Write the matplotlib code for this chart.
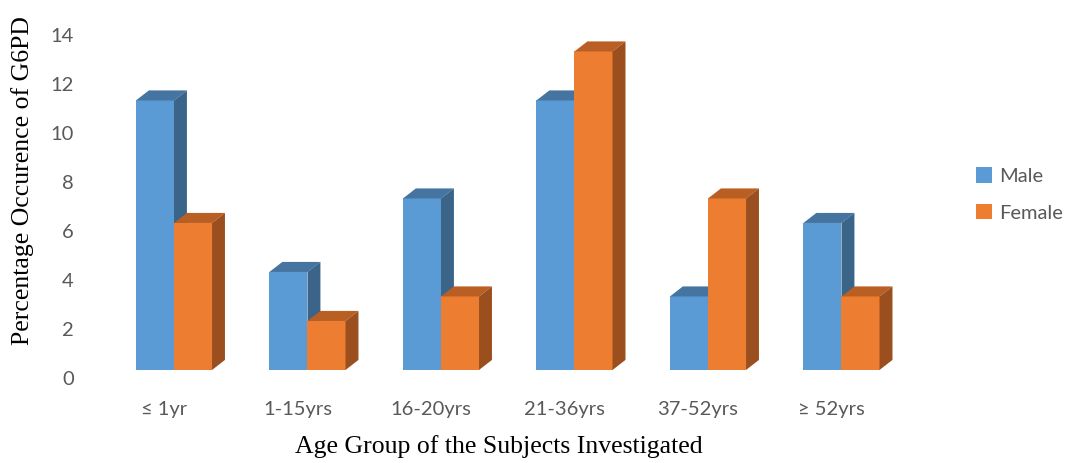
import numpy as np
import matplotlib
matplotlib.use("Agg")
import matplotlib.pyplot as plt
from matplotlib.patches import Rectangle, Polygon
from matplotlib.transforms import ScaledTranslation

age_groups = ["\u2264 1yr", "1-15yrs", "16-20yrs", "21-36yrs", "37-52yrs", "\u2265 52yrs"]
male = [11, 4, 7, 11, 3, 6]
female = [6, 2, 3, 13, 7, 3]
series = ["Male", "Female"]

# front, top, side shades for each series
shades = {
    "Male": ("#5b9bd5", "#44749f", "#3a6488"),
    "Female": ("#ed7d31", "#b95f24", "#9b4f1e"),
}

BAR_W = 0.285
DEPTH_X = 0.097
DEPTH_Y = 0.41
TEXT = "#595959"

fig = plt.figure(figsize=(10.69, 4.63), dpi=100)
ax = fig.add_axes([0.1003, 0.148, 0.7493, 0.8467])
ax.set_xlim(-0.5, 5.5)
ax.set_ylim(-1, 15)


def bar3d(ax, x0, h, colors):
    front, top, side = colors
    ax.add_patch(Rectangle((x0, 0), BAR_W, h, facecolor=front, edgecolor="none"))
    ax.add_patch(Polygon([(x0, h), (x0 + DEPTH_X, h + DEPTH_Y),
                          (x0 + BAR_W + DEPTH_X, h + DEPTH_Y), (x0 + BAR_W, h)],
                         closed=True, facecolor=top, edgecolor="none"))
    ax.add_patch(Polygon([(x0 + BAR_W, 0), (x0 + BAR_W, h),
                          (x0 + BAR_W + DEPTH_X, h + DEPTH_Y),
                          (x0 + BAR_W + DEPTH_X, DEPTH_Y)],
                         closed=True, facecolor=side, edgecolor="none"))


x = np.arange(len(age_groups))
for i in x:
    bar3d(ax, i - BAR_W, male[i], shades["Male"])
    bar3d(ax, i, female[i], shades["Female"])

for s in ax.spines.values():
    s.set_visible(False)

ax.set_yticks(range(0, 15, 2))
ax.set_yticklabels([str(v) for v in range(0, 15, 2)])
ax.set_xticks(x)
ax.set_xticklabels(age_groups)
ax.tick_params(length=0, colors=TEXT, labelsize=14.5)
ax.tick_params(axis="y", pad=24)
ax.tick_params(axis="x", pad=5)
for lab in ax.get_yticklabels():
    lab.set_fontfamily(["Lato", "DejaVu Sans"])
    lab.set_transform(lab.get_transform() + ScaledTranslation(0, -0.08, fig.dpi_scale_trans))
for lab in ax.get_xticklabels():
    lab.set_fontfamily(["Lato", "DejaVu Sans"])
    lab.set_transform(lab.get_transform() + ScaledTranslation(-0.10, 0, fig.dpi_scale_trans))

fig.text(0.021, 0.611, "Percentage Occurence of G6PD", rotation=90, ha="center", va="center",
         fontsize=18.5, family="Liberation Serif", color="black")
fig.text(0.467, 0.035, "Age Group of the Subjects Investigated", ha="center", va="center",
         fontsize=18.5, family="Liberation Serif", color="black")

# legend
handles = [Rectangle((0, 0), 1, 1, facecolor=shades[s][0], edgecolor="none") for s in series]
fig.legend(handles, series, loc="center left", bbox_to_anchor=(0.913, 0.58),
           frameon=False, borderpad=0, borderaxespad=0,
           handlelength=0.8, handleheight=0.8, handletextpad=0.35,
           labelspacing=0.95, prop={"family": "Lato", "size": 14.5}, labelcolor=TEXT)

fig.savefig("out.png", dpi=100)
